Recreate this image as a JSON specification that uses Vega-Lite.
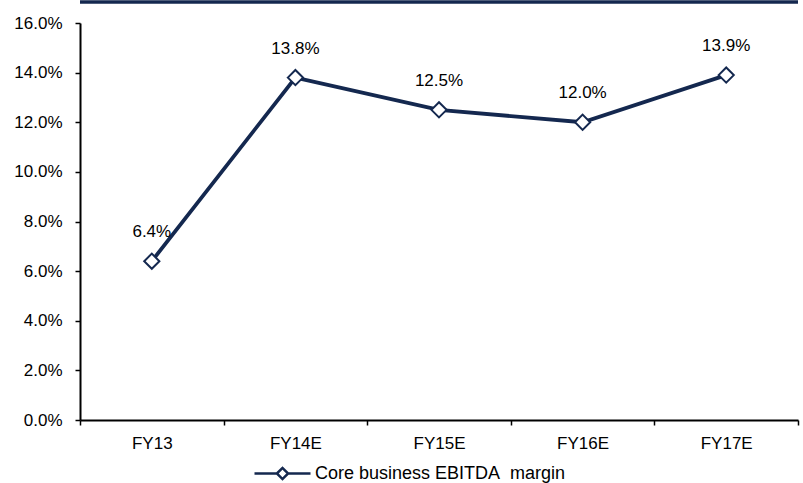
{
  "$schema": "https://vega.github.io/schema/vega-lite/v6.json",
  "width": 718,
  "height": 397,
  "autosize": {"type": "none"},
  "padding": {"left": 80, "top": 23, "right": 5, "bottom": 63},
  "background": "white",
  "config": {
    "view": {"stroke": null},
    "font": "Liberation Sans",
    "axis": {
      "domainColor": "black",
      "domainWidth": 2,
      "tickColor": "black",
      "tickWidth": 1.5,
      "tickSize": 5,
      "labelFont": "Liberation Sans",
      "labelFontSize": 17,
      "labelColor": "black",
      "grid": false,
      "title": null
    }
  },
  "data": {
    "values": [
      {"year": "FY13", "margin": 0.064, "series": "Core business EBITDA\u00a0 margin"},
      {"year": "FY14E", "margin": 0.138, "series": "Core business EBITDA\u00a0 margin"},
      {"year": "FY15E", "margin": 0.125, "series": "Core business EBITDA\u00a0 margin"},
      {"year": "FY16E", "margin": 0.120, "series": "Core business EBITDA\u00a0 margin"},
      {"year": "FY17E", "margin": 0.139, "series": "Core business EBITDA\u00a0 margin"}
    ]
  },
  "encoding": {
    "x": {
      "field": "year",
      "type": "nominal",
      "sort": null,
      "scale": {"paddingInner": 0, "paddingOuter": 0},
      "axis": {"labelAngle": 0, "tickBand": "extent", "labelPadding": 10}
    },
    "y": {
      "field": "margin",
      "type": "quantitative",
      "scale": {"domain": [0, 0.16], "nice": false},
      "axis": {"format": ".1%", "values": [0, 0.02, 0.04, 0.06, 0.08, 0.1, 0.12, 0.14, 0.16], "labelPadding": 13}
    }
  },
  "layer": [
    {
      "data": {"values": [{"top": 0.1685}]},
      "mark": {"type": "rule", "color": "#14284f", "strokeWidth": 3.5, "clip": false},
      "encoding": {"x": null, "y": {"field": "top", "type": "quantitative"}}
    },
    {
      "mark": {"type": "line", "color": "#14284f", "strokeWidth": 3.8},
      "encoding": {
        "color": {
          "field": "series",
          "type": "nominal",
          "scale": {"range": ["#14284f"]},
          "legend": {
            "orient": "none",
            "legendX": 173,
            "legendY": 421,
            "title": null,
            "padding": 0,
            "symbolType": "M-1,0L-0.2,0M0.2,0L1,0M-0.2,0L0,-0.2L0.2,0L0,0.2Z",
            "symbolSize": 3136,
            "symbolStrokeWidth": 2.5,
            "symbolFillColor": "white",
            "symbolStrokeColor": "#14284f",
            "labelFontSize": 18,
            "labelColor": "black",
            "labelFont": "Liberation Sans",
            "labelOffset": 3,
            "labelLimit": 400,
            "encode": {"symbols": {"update": {"fill": {"value": "white"}, "stroke": {"value": "#14284f"}, "strokeWidth": {"value": 2.5}}}}
          }
        }
      }
    },
    {
      "mark": {"type": "point", "shape": "diamond", "size": 230, "filled": true, "fill": "white", "stroke": "#14284f", "strokeWidth": 2, "opacity": 1}
    },
    {
      "mark": {"type": "text", "fontSize": 17, "font": "Liberation Sans", "color": "black", "baseline": "alphabetic", "dy": -24},
      "encoding": {"text": {"field": "margin", "type": "quantitative", "format": ".1%"}}
    }
  ]
}
